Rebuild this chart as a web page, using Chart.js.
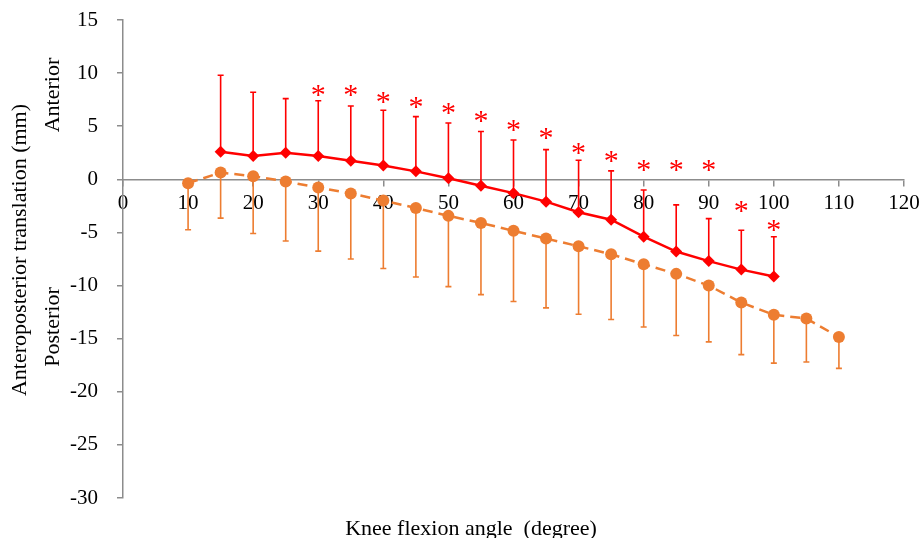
<!DOCTYPE html>
<html>
<head>
<meta charset="utf-8">
<script src="https://cdn.jsdelivr.net/npm/chart.js@4.4.0/dist/chart.umd.min.js"></script>
<style>
  body { margin: 0; background: #fff; }
  #wrap { width: 919px; height: 538px; }
</style>
</head>
<body>
<div id="wrap"><canvas id="canvas" width="919" height="538"></canvas></div>
<script>
/* data */
const angleRed = [15, 20, 25, 30, 35, 40, 45, 50, 55, 60, 65, 70, 75, 80, 85, 90, 95, 100];
const redMean = [2.6, 2.2, 2.5, 2.2, 1.75, 1.3, 0.75, 0.1, -0.6, -1.3, -2.1, -3.1, -3.8, -5.4, -6.8, -7.7, -8.5, -9.15];
const redUpper = [9.8, 8.2, 7.6, 7.4, 6.9, 6.5, 5.9, 5.3, 4.5, 3.7, 2.8, 1.8, 0.8, -1.0, -2.4, -3.7, -4.8, -5.4];

const angleOrange = [10, 15, 20, 25, 30, 35, 40, 45, 50, 55, 60, 65, 70, 75, 80, 85, 90, 95, 100, 105, 110];
const orangeMean = [-0.36, 0.64, 0.3, -0.2, -0.77, -1.33, -2.0, -2.7, -3.44, -4.1, -4.85, -5.57, -6.3, -7.05, -8.0, -8.9, -10.0, -11.6, -12.75, -13.1, -14.85];
const orangeLower = [-4.75, -3.65, -5.1, -5.8, -6.76, -7.5, -8.4, -9.2, -10.1, -10.85, -11.5, -12.1, -12.7, -13.2, -13.9, -14.7, -15.3, -16.5, -17.3, -17.2, -17.8];

/* significance stars */
const starAngle = [30, 35, 40, 45, 50, 55, 60, 65, 70, 75, 80, 85, 90, 95, 100];
const starY = [8.4, 8.4, 7.7, 7.2, 6.7, 5.9, 5.1, 4.3, 2.9, 2.15, 1.3, 1.3, 1.3, -2.6, -4.3];

const xTicks = [0, 10, 20, 30, 40, 50, 60, 70, 80, 90, 100, 110, 120];
const yTicks = [15, 10, 5, 0, -5, -10, -15, -20, -25, -30];

const RED = '#ff0000';
const ORANGE = '#ed7d31';
const AXIS = '#8c8c8c';
const FONT = "'Liberation Serif', 'Times New Roman', serif";

function pts(xs, ys) {
    return xs.map(function (x, i) { return { x: x, y: ys[i] }; });
}

// no label overflow padding, the layout padding decides the plot box
function noPad(s) {
    s.paddingTop = 0;
    s.paddingBottom = 0;
    s.paddingLeft = 0;
    s.paddingRight = 0;
}

/* error bars, drawn under the markers */
const errorBars = {
    id: 'errorBars',
    beforeDatasetsDraw(chart) {
        const ctx = chart.ctx;
        const xs = chart.scales.x, ys = chart.scales.y;
        chart.data.datasets.forEach(function (ds) {
            if (!ds.errEnd) return;
            ctx.save();
            ctx.strokeStyle = ds.borderColor;
            ctx.lineWidth = 1.6;
            ds.data.forEach(function (p, i) {
                const px = xs.getPixelForValue(p.x);
                const y0 = ys.getPixelForValue(p.y);
                const y1 = ys.getPixelForValue(ds.errEnd[i]);
                ctx.beginPath();
                ctx.moveTo(px, y0);
                ctx.lineTo(px, y1);
                ctx.moveTo(px - 3, y1);
                ctx.lineTo(px + 3, y1);
                ctx.stroke();
            });
            ctx.restore();
        });
    }
};

/* stars and free text */
function rotatedText(ctx, txt, x, y) {
    ctx.save();
    ctx.font = '22px ' + FONT;
    ctx.textAlign = 'center';
    ctx.textBaseline = 'middle';
    ctx.fillStyle = '#000';
    ctx.translate(x, y);
    ctx.rotate(-Math.PI / 2);
    ctx.fillText(txt, 0, 0);
    ctx.restore();
}

const extraText = {
    id: 'extraText',
    afterDatasetsDraw(chart) {
        const ctx = chart.ctx;
        const xs = chart.scales.x, ys = chart.scales.y;
        ctx.save();
        ctx.fillStyle = RED;
        ctx.font = '30px ' + FONT;
        ctx.textAlign = 'center';
        ctx.textBaseline = 'alphabetic';
        const m = ctx.measureText('*');
        const off = (m.actualBoundingBoxAscent - m.actualBoundingBoxDescent) / 2;
        starAngle.forEach(function (a, i) {
            ctx.fillText('*', xs.getPixelForValue(a), ys.getPixelForValue(starY[i]) + off);
        });
        ctx.restore();
    },
    afterDraw(chart) {
        const ctx = chart.ctx;
        ctx.save();
        ctx.fillStyle = '#000';
        ctx.font = '22px ' + FONT;
        ctx.textAlign = 'center';
        ctx.textBaseline = 'middle';
        ctx.fillText('Knee flexion angle  (degree)', 471, 529);
        ctx.restore();
        rotatedText(ctx, 'Anteroposterior translation (mm)', 20, 250);
        rotatedText(ctx, 'Anterior', 53, 95);
        rotatedText(ctx, 'Posterior', 53, 327);
    }
};

const ctx = document.getElementById('canvas');
new Chart(ctx, {
    type: 'line',
    data: {
        datasets: [{
            label: 'red',
            data: pts(angleRed, redMean),
            errEnd: redUpper,
            borderColor: RED,
            backgroundColor: RED,
            borderWidth: 2.5,
            pointStyle: 'rectRot',
            pointRadius: 6,
            pointBorderWidth: 0,
            tension: 0
        }, {
            label: 'orange',
            data: pts(angleOrange, orangeMean),
            errEnd: orangeLower,
            borderColor: ORANGE,
            backgroundColor: ORANGE,
            borderWidth: 2.5,
            borderDash: [10, 6],
            pointStyle: 'circle',
            pointRadius: 6,
            pointBorderWidth: 0,
            tension: 0
        }]
    },
    options: {
        responsive: false,
        animation: false,
        layout: { padding: { top: 20, right: 15, bottom: 40, left: 0 } },
        plugins: { legend: { display: false }, tooltip: { enabled: false } },
        scales: {
            x: {
                type: 'linear',
                position: { y: 0 },
                min: 0,
                max: 120,
                afterFit: function (s) { s.height = 0; noPad(s); },
                afterBuildTicks: function (s) { s.ticks = xTicks.map(function (v) { return { value: v }; }); },
                grid: { drawOnChartArea: false, drawTicks: true, tickLength: 6, color: AXIS, lineWidth: 1.5 },
                border: { display: true, color: AXIS, width: 1.5 },
                ticks: { color: '#000', font: { family: FONT, size: 21 }, padding: 6, maxRotation: 0 }
            },
            y: {
                type: 'linear',
                min: -30,
                max: 15,
                afterFit: function (s) { s.width = 123; noPad(s); },
                afterBuildTicks: function (s) { s.ticks = yTicks.map(function (v) { return { value: v }; }); },
                grid: { drawOnChartArea: false, drawTicks: true, tickLength: 6, color: AXIS, lineWidth: 1.5 },
                border: { display: true, color: AXIS, width: 1.5 },
                ticks: { color: '#000', font: { family: FONT, size: 21 }, padding: 19 }
            }
        }
    },
    plugins: [errorBars, extraText]
});
</script>
</body>
</html>
